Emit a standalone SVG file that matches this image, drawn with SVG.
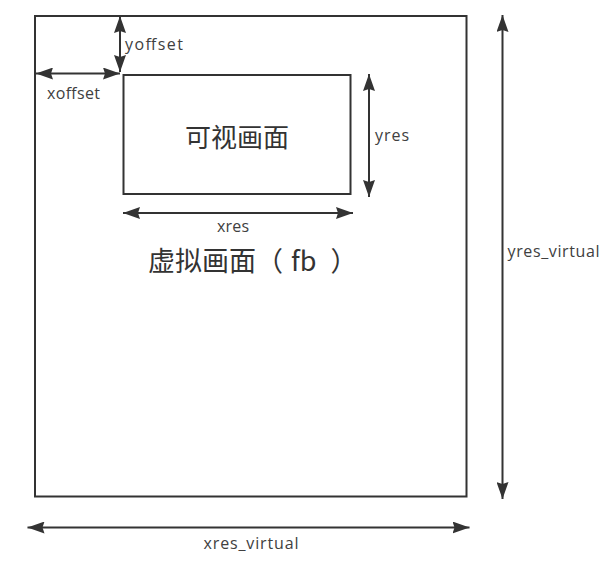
<svg xmlns="http://www.w3.org/2000/svg" width="608" height="562" viewBox="0 0 608 562">
<style>
.box{fill:#fff;stroke:#333;stroke-width:2}
.ln{stroke:#333;stroke-width:2;fill:none;marker-start:url(#ah);marker-end:url(#ah)}
.lbl{font-family:"Open Sans","Noto Sans CJK SC",sans-serif;font-size:16px;fill:#404040}
.cjk{font-family:"Noto Sans CJK SC",sans-serif;fill:#333}
</style>
<defs>
<marker id="ah" markerUnits="userSpaceOnUse" markerWidth="18" markerHeight="12" refX="17" refY="6" orient="auto-start-reverse">
<path d="M0,0 L17,6 L0,12 L2,6 z" fill="#333"/>
</marker>
</defs>
<rect width="608" height="562" fill="#fff"/>
<g id="fb">
<rect class="box" x="35" y="16" width="431.5" height="480.5"/>
<text class="cjk" x="148" y="271" font-size="27" xml:space="preserve">虚拟画面（ <tspan dx="2">fb</tspan><tspan dx="8"> ）</tspan></text>
</g>
<g id="visible">
<rect class="box" x="123.5" y="75" width="227" height="119"/>
<text class="cjk" x="237" y="147" font-size="26" text-anchor="middle">可视画面</text>
</g>
<g id="connectors">
<line class="ln" x1="120" y1="16" x2="120" y2="72"/>
<line class="ln" x1="36" y1="73.5" x2="120" y2="73.5"/>
<line class="ln" x1="369" y1="74" x2="369" y2="197"/>
<line class="ln" x1="123" y1="213" x2="353" y2="213"/>
<line class="ln" x1="502.5" y1="15" x2="502.5" y2="499"/>
<line class="ln" x1="27.5" y1="527.5" x2="469.5" y2="527.5"/>
</g>
<g id="labels">
<text class="lbl" x="125" y="50" textLength="58">yoffset</text>
<text class="lbl" x="47" y="99" textLength="53">xoffset</text>
<text class="lbl" x="375" y="141" textLength="34">yres</text>
<text class="lbl" x="217" y="232" textLength="32">xres</text>
<text class="lbl" x="507.5" y="256.5" textLength="92">yres_virtual</text>
<text class="lbl" x="203.5" y="548.5" textLength="95">xres_virtual</text>
</g>
</svg>
